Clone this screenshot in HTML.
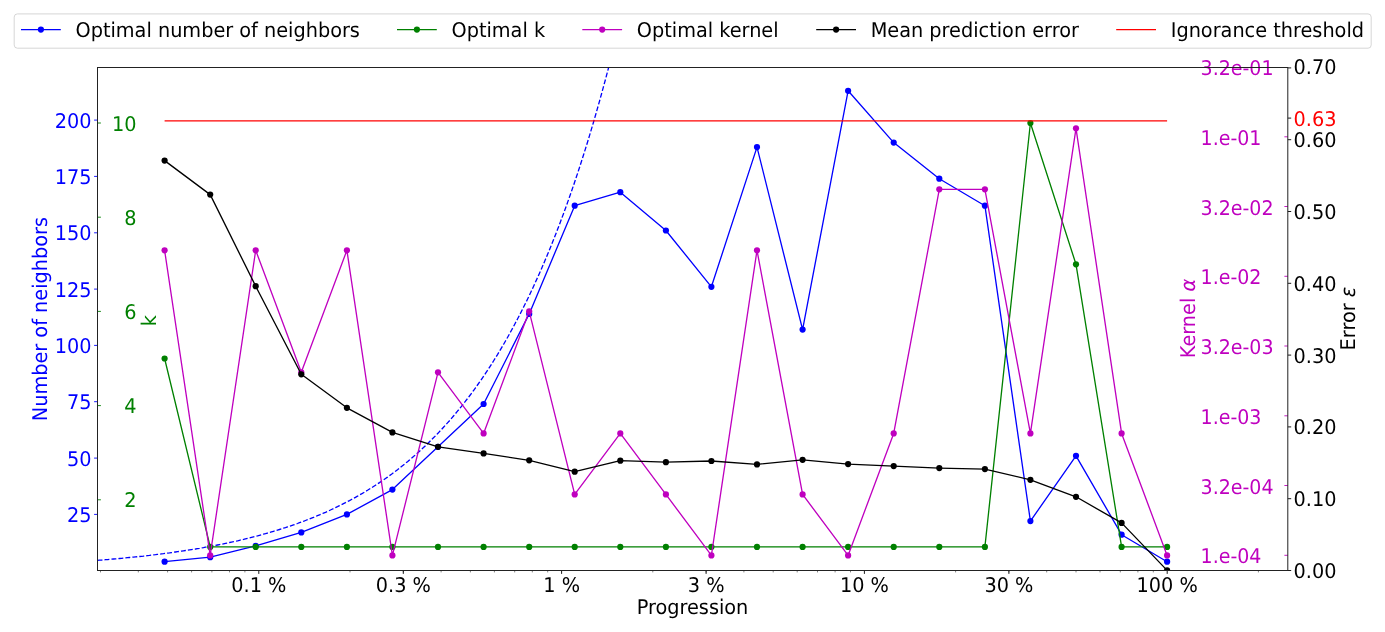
<!DOCTYPE html><html><head><meta charset="utf-8"><title>Progression</title><style>html,body{margin:0;padding:0;background:#fff}svg{display:block}</style></head><body><svg width="1385" height="632" viewBox="0 0 1385 632" font-family="'DejaVu Sans','Liberation Sans',sans-serif" font-size="19.3" style="text-rendering:geometricPrecision">
<rect width="1385" height="632" fill="#fff"/>
<defs><clipPath id="c"><rect x="97.5" y="67.5" width="1190.3" height="503.0"/></clipPath></defs>
<g clip-path="url(#c)"><polyline fill="none" stroke="#0000ff" stroke-width="1.32" stroke-dasharray="4.9 2.1" points="97.5,560.4 99.5,560.2 101.5,560.1 103.5,559.9 105.5,559.7 107.5,559.6 109.5,559.4 111.5,559.2 113.5,559.0 115.5,558.9 117.5,558.7 119.5,558.5 121.5,558.3 123.5,558.1 125.5,557.9 127.5,557.7 129.5,557.5 131.5,557.3 133.5,557.1 135.5,556.9 137.5,556.7 139.5,556.5 141.5,556.3 143.5,556.1 145.5,555.8 147.5,555.6 149.5,555.4 151.5,555.1 153.5,554.9 155.5,554.7 157.5,554.4 159.5,554.2 161.5,553.9 163.5,553.7 165.5,553.4 167.5,553.1 169.5,552.9 171.5,552.6 173.5,552.3 175.5,552.0 177.5,551.7 179.5,551.4 181.5,551.1 183.5,550.8 185.5,550.5 187.5,550.2 189.5,549.9 191.5,549.6 193.5,549.3 195.5,549.0 197.5,548.6 199.5,548.3 201.5,547.9 203.5,547.6 205.5,547.2 207.5,546.9 209.5,546.5 211.5,546.1 213.5,545.8 215.5,545.4 217.5,545.0 219.5,544.6 221.5,544.2 223.5,543.8 225.5,543.4 227.5,543.0 229.5,542.5 231.5,542.1 233.5,541.7 235.5,541.2 237.5,540.8 239.5,540.3 241.5,539.8 243.5,539.4 245.5,538.9 247.5,538.4 249.5,537.9 251.5,537.4 253.5,536.9 255.5,536.4 257.5,535.9 259.5,535.3 261.5,534.8 263.5,534.2 265.5,533.7 267.5,533.1 269.5,532.5 271.5,531.9 273.5,531.3 275.5,530.7 277.5,530.1 279.5,529.5 281.5,528.9 283.5,528.2 285.5,527.6 287.5,526.9 289.5,526.3 291.5,525.6 293.5,524.9 295.5,524.2 297.5,523.5 299.5,522.7 301.5,522.0 303.5,521.3 305.5,520.5 307.5,519.7 309.5,519.0 311.5,518.2 313.5,517.4 315.5,516.5 317.5,515.7 319.5,514.9 321.5,514.0 323.5,513.1 325.5,512.3 327.5,511.4 329.5,510.5 331.5,509.5 333.5,508.6 335.5,507.6 337.5,506.7 339.5,505.7 341.5,504.7 343.5,503.7 345.5,502.7 347.5,501.6 349.5,500.6 351.5,499.5 353.5,498.4 355.5,497.3 357.5,496.2 359.5,495.0 361.5,493.9 363.5,492.7 365.5,491.5 367.5,490.3 369.5,489.0 371.5,487.8 373.5,486.5 375.5,485.2 377.5,483.9 379.5,482.6 381.5,481.2 383.5,479.9 385.5,478.5 387.5,477.1 389.5,475.6 391.5,474.2 393.5,472.7 395.5,471.2 397.5,469.7 399.5,468.1 401.5,466.5 403.5,464.9 405.5,463.3 407.5,461.7 409.5,460.0 411.5,458.3 413.5,456.6 415.5,454.8 417.5,453.1 419.5,451.3 421.5,449.4 423.5,447.6 425.5,445.7 427.5,443.8 429.5,441.8 431.5,439.8 433.5,437.8 435.5,435.8 437.5,433.7 439.5,431.6 441.5,429.5 443.5,427.3 445.5,425.1 447.5,422.9 449.5,420.7 451.5,418.4 453.5,416.0 455.5,413.6 457.5,411.2 459.5,408.8 461.5,406.3 463.5,403.8 465.5,401.2 467.5,398.6 469.5,396.0 471.5,393.3 473.5,390.6 475.5,387.8 477.5,385.0 479.5,382.2 481.5,379.3 483.5,376.4 485.5,373.4 487.5,370.4 489.5,367.3 491.5,364.2 493.5,361.0 495.5,357.8 497.5,354.6 499.5,351.2 501.5,347.9 503.5,344.5 505.5,341.0 507.5,337.5 509.5,333.9 511.5,330.3 513.5,326.6 515.5,322.8 517.5,319.0 519.5,315.2 521.5,311.3 523.5,307.3 525.5,303.3 527.5,299.2 529.5,295.0 531.5,290.8 533.5,286.5 535.5,282.1 537.5,277.7 539.5,273.2 541.5,268.7 543.5,264.0 545.5,259.3 547.5,254.6 549.5,249.7 551.5,244.8 553.5,239.8 555.5,234.7 557.5,229.6 559.5,224.4 561.5,219.0 563.5,213.7 565.5,208.2 567.5,202.6 569.5,197.0 571.5,191.3 573.5,185.5 575.5,179.5 577.5,173.6 579.5,167.5 581.5,161.3 583.5,155.0 585.5,148.6 587.5,142.2 589.5,135.6 591.5,128.9 593.5,122.2 595.5,115.3 597.5,108.3 599.5,101.2 601.5,94.0 603.5,86.7 605.5,79.3 607.5,71.8 609.5,64.1 611.5,56.4 613.5,48.5 615.5,40.5 617.5,32.4 619.5,24.1"/></g>
<g clip-path="url(#c)"><polyline fill="none" stroke="#0000ff" stroke-width="1.32" stroke-linejoin="round" points="164.6,561.7 210.2,557.2 255.7,545.9 301.3,532.4 346.9,514.4 392.4,489.6 438.0,446.8 483.6,404.0 529.2,313.9 574.7,205.7 620.3,192.2 665.9,230.5 711.4,286.8 757.0,147.1 802.6,329.6 848.1,90.8 893.7,142.6 939.3,178.7 984.9,205.7 1030.4,521.1 1076.0,455.8 1121.6,534.7 1167.1,561.7"/><g fill="#0000ff"><circle cx="164.6" cy="561.7" r="3.1"/><circle cx="210.2" cy="557.2" r="3.1"/><circle cx="255.7" cy="545.9" r="3.1"/><circle cx="301.3" cy="532.4" r="3.1"/><circle cx="346.9" cy="514.4" r="3.1"/><circle cx="392.4" cy="489.6" r="3.1"/><circle cx="438.0" cy="446.8" r="3.1"/><circle cx="483.6" cy="404.0" r="3.1"/><circle cx="529.2" cy="313.9" r="3.1"/><circle cx="574.7" cy="205.7" r="3.1"/><circle cx="620.3" cy="192.2" r="3.1"/><circle cx="665.9" cy="230.5" r="3.1"/><circle cx="711.4" cy="286.8" r="3.1"/><circle cx="757.0" cy="147.1" r="3.1"/><circle cx="802.6" cy="329.6" r="3.1"/><circle cx="848.1" cy="90.8" r="3.1"/><circle cx="893.7" cy="142.6" r="3.1"/><circle cx="939.3" cy="178.7" r="3.1"/><circle cx="984.9" cy="205.7" r="3.1"/><circle cx="1030.4" cy="521.1" r="3.1"/><circle cx="1076.0" cy="455.8" r="3.1"/><circle cx="1121.6" cy="534.7" r="3.1"/><circle cx="1167.1" cy="561.7" r="3.1"/></g></g>
<g clip-path="url(#c)"><polyline fill="none" stroke="#008000" stroke-width="1.32" stroke-linejoin="round" points="164.6,358.5 210.2,546.9 255.7,546.9 301.3,546.9 346.9,546.9 392.4,546.9 438.0,546.9 483.6,546.9 529.2,546.9 574.7,546.9 620.3,546.9 665.9,546.9 711.4,546.9 757.0,546.9 802.6,546.9 848.1,546.9 893.7,546.9 939.3,546.9 984.9,546.9 1030.4,123.0 1076.0,264.3 1121.6,546.9 1167.1,546.9"/><g fill="#008000"><circle cx="164.6" cy="358.5" r="3.1"/><circle cx="210.2" cy="546.9" r="3.1"/><circle cx="255.7" cy="546.9" r="3.1"/><circle cx="301.3" cy="546.9" r="3.1"/><circle cx="346.9" cy="546.9" r="3.1"/><circle cx="392.4" cy="546.9" r="3.1"/><circle cx="438.0" cy="546.9" r="3.1"/><circle cx="483.6" cy="546.9" r="3.1"/><circle cx="529.2" cy="546.9" r="3.1"/><circle cx="574.7" cy="546.9" r="3.1"/><circle cx="620.3" cy="546.9" r="3.1"/><circle cx="665.9" cy="546.9" r="3.1"/><circle cx="711.4" cy="546.9" r="3.1"/><circle cx="757.0" cy="546.9" r="3.1"/><circle cx="802.6" cy="546.9" r="3.1"/><circle cx="848.1" cy="546.9" r="3.1"/><circle cx="893.7" cy="546.9" r="3.1"/><circle cx="939.3" cy="546.9" r="3.1"/><circle cx="984.9" cy="546.9" r="3.1"/><circle cx="1030.4" cy="123.0" r="3.1"/><circle cx="1076.0" cy="264.3" r="3.1"/><circle cx="1121.6" cy="546.9" r="3.1"/><circle cx="1167.1" cy="546.9" r="3.1"/></g></g>
<g clip-path="url(#c)"><polyline fill="none" stroke="#bf00bf" stroke-width="1.32" stroke-linejoin="round" points="164.6,250.3 210.2,555.4 255.7,250.3 301.3,372.3 346.9,250.3 392.4,555.4 438.0,372.3 483.6,433.4 529.2,311.3 574.7,494.4 620.3,433.4 665.9,494.4 711.4,555.4 757.0,250.3 802.6,494.4 848.1,555.4 893.7,433.4 939.3,189.3 984.9,189.3 1030.4,433.4 1076.0,128.3 1121.6,433.4 1167.1,555.4"/><g fill="#bf00bf"><circle cx="164.6" cy="250.3" r="3.1"/><circle cx="210.2" cy="555.4" r="3.1"/><circle cx="255.7" cy="250.3" r="3.1"/><circle cx="301.3" cy="372.3" r="3.1"/><circle cx="346.9" cy="250.3" r="3.1"/><circle cx="392.4" cy="555.4" r="3.1"/><circle cx="438.0" cy="372.3" r="3.1"/><circle cx="483.6" cy="433.4" r="3.1"/><circle cx="529.2" cy="311.3" r="3.1"/><circle cx="574.7" cy="494.4" r="3.1"/><circle cx="620.3" cy="433.4" r="3.1"/><circle cx="665.9" cy="494.4" r="3.1"/><circle cx="711.4" cy="555.4" r="3.1"/><circle cx="757.0" cy="250.3" r="3.1"/><circle cx="802.6" cy="494.4" r="3.1"/><circle cx="848.1" cy="555.4" r="3.1"/><circle cx="893.7" cy="433.4" r="3.1"/><circle cx="939.3" cy="189.3" r="3.1"/><circle cx="984.9" cy="189.3" r="3.1"/><circle cx="1030.4" cy="433.4" r="3.1"/><circle cx="1076.0" cy="128.3" r="3.1"/><circle cx="1121.6" cy="433.4" r="3.1"/><circle cx="1167.1" cy="555.4" r="3.1"/></g></g>
<g clip-path="url(#c)"><polyline fill="none" stroke="#000000" stroke-width="1.32" stroke-linejoin="round" points="164.6,160.6 210.2,194.6 255.7,286.2 301.3,374.3 346.9,407.8 392.4,432.4 438.0,446.8 483.6,453.4 529.2,460.3 574.7,471.7 620.3,460.7 665.9,462.2 711.4,461.0 757.0,464.4 802.6,459.8 848.1,464.1 893.7,466.1 939.3,468.1 984.9,469.1 1030.4,479.8 1076.0,496.8 1121.6,522.9 1167.1,570.4"/><g fill="#000000"><circle cx="164.6" cy="160.6" r="3.1"/><circle cx="210.2" cy="194.6" r="3.1"/><circle cx="255.7" cy="286.2" r="3.1"/><circle cx="301.3" cy="374.3" r="3.1"/><circle cx="346.9" cy="407.8" r="3.1"/><circle cx="392.4" cy="432.4" r="3.1"/><circle cx="438.0" cy="446.8" r="3.1"/><circle cx="483.6" cy="453.4" r="3.1"/><circle cx="529.2" cy="460.3" r="3.1"/><circle cx="574.7" cy="471.7" r="3.1"/><circle cx="620.3" cy="460.7" r="3.1"/><circle cx="665.9" cy="462.2" r="3.1"/><circle cx="711.4" cy="461.0" r="3.1"/><circle cx="757.0" cy="464.4" r="3.1"/><circle cx="802.6" cy="459.8" r="3.1"/><circle cx="848.1" cy="464.1" r="3.1"/><circle cx="893.7" cy="466.1" r="3.1"/><circle cx="939.3" cy="468.1" r="3.1"/><circle cx="984.9" cy="469.1" r="3.1"/><circle cx="1030.4" cy="479.8" r="3.1"/><circle cx="1076.0" cy="496.8" r="3.1"/><circle cx="1121.6" cy="522.9" r="3.1"/><circle cx="1167.1" cy="570.4" r="3.1"/></g></g>
<line x1="164.6" x2="1167.1" y1="120.9" y2="120.9" stroke="#ff0000" stroke-width="1.32"/>
<text transform="translate(258.8,592.2) scale(1.000,1.050)" text-anchor="middle">0.1 %</text>
<text transform="translate(403.3,592.2) scale(1.000,1.050)" text-anchor="middle">0.3 %</text>
<text transform="translate(561.6,592.2) scale(1.000,1.050)" text-anchor="middle">1 %</text>
<text transform="translate(706.1,592.2) scale(1.000,1.050)" text-anchor="middle">3 %</text>
<text transform="translate(864.4,592.2) scale(1.000,1.050)" text-anchor="middle">10 %</text>
<text transform="translate(1008.9,592.2) scale(1.000,1.050)" text-anchor="middle">30 %</text>
<text transform="translate(1167.2,592.2) scale(1.000,1.050)" text-anchor="middle">100 %</text>
<g stroke="#000" stroke-width="0.90"><line x1="258.8" x2="258.8" y1="570.5" y2="573.9"/><line x1="403.3" x2="403.3" y1="570.5" y2="573.9"/><line x1="561.6" x2="561.6" y1="570.5" y2="573.9"/><line x1="706.1" x2="706.1" y1="570.5" y2="573.9"/><line x1="864.4" x2="864.4" y1="570.5" y2="573.9"/><line x1="1008.9" x2="1008.9" y1="570.5" y2="573.9"/><line x1="1167.2" x2="1167.2" y1="570.5" y2="573.9"/><line x1="100.5" x2="100.5" y1="570.5" y2="572.4" stroke-width="0.5"/><line x1="138.3" x2="138.3" y1="570.5" y2="572.4" stroke-width="0.5"/><line x1="167.6" x2="167.6" y1="570.5" y2="572.4" stroke-width="0.5"/><line x1="191.6" x2="191.6" y1="570.5" y2="572.4" stroke-width="0.5"/><line x1="211.9" x2="211.9" y1="570.5" y2="572.4" stroke-width="0.5"/><line x1="229.5" x2="229.5" y1="570.5" y2="572.4" stroke-width="0.5"/><line x1="244.9" x2="244.9" y1="570.5" y2="572.4" stroke-width="0.5"/><line x1="350.0" x2="350.0" y1="570.5" y2="572.4" stroke-width="0.5"/><line x1="403.3" x2="403.3" y1="570.5" y2="572.4" stroke-width="0.5"/><line x1="441.1" x2="441.1" y1="570.5" y2="572.4" stroke-width="0.5"/><line x1="470.4" x2="470.4" y1="570.5" y2="572.4" stroke-width="0.5"/><line x1="494.4" x2="494.4" y1="570.5" y2="572.4" stroke-width="0.5"/><line x1="514.7" x2="514.7" y1="570.5" y2="572.4" stroke-width="0.5"/><line x1="532.3" x2="532.3" y1="570.5" y2="572.4" stroke-width="0.5"/><line x1="547.7" x2="547.7" y1="570.5" y2="572.4" stroke-width="0.5"/><line x1="652.8" x2="652.8" y1="570.5" y2="572.4" stroke-width="0.5"/><line x1="706.1" x2="706.1" y1="570.5" y2="572.4" stroke-width="0.5"/><line x1="743.9" x2="743.9" y1="570.5" y2="572.4" stroke-width="0.5"/><line x1="773.2" x2="773.2" y1="570.5" y2="572.4" stroke-width="0.5"/><line x1="797.2" x2="797.2" y1="570.5" y2="572.4" stroke-width="0.5"/><line x1="817.5" x2="817.5" y1="570.5" y2="572.4" stroke-width="0.5"/><line x1="835.1" x2="835.1" y1="570.5" y2="572.4" stroke-width="0.5"/><line x1="850.5" x2="850.5" y1="570.5" y2="572.4" stroke-width="0.5"/><line x1="955.6" x2="955.6" y1="570.5" y2="572.4" stroke-width="0.5"/><line x1="1008.9" x2="1008.9" y1="570.5" y2="572.4" stroke-width="0.5"/><line x1="1046.7" x2="1046.7" y1="570.5" y2="572.4" stroke-width="0.5"/><line x1="1076.0" x2="1076.0" y1="570.5" y2="572.4" stroke-width="0.5"/><line x1="1100.0" x2="1100.0" y1="570.5" y2="572.4" stroke-width="0.5"/><line x1="1120.3" x2="1120.3" y1="570.5" y2="572.4" stroke-width="0.5"/><line x1="1137.9" x2="1137.9" y1="570.5" y2="572.4" stroke-width="0.5"/><line x1="1153.3" x2="1153.3" y1="570.5" y2="572.4" stroke-width="0.5"/><line x1="1258.4" x2="1258.4" y1="570.5" y2="572.4" stroke-width="0.5"/></g>
<text transform="translate(692.5,614.0) scale(1.000,1.050)" text-anchor="middle">Progression</text>
<text transform="translate(91.5,522.0) scale(1.000,1.050)" text-anchor="end" fill="#0000ff">25</text>
<text transform="translate(91.5,465.7) scale(1.000,1.050)" text-anchor="end" fill="#0000ff">50</text>
<text transform="translate(91.5,409.3) scale(1.000,1.050)" text-anchor="end" fill="#0000ff">75</text>
<text transform="translate(91.5,353.0) scale(1.000,1.050)" text-anchor="end" fill="#0000ff">100</text>
<text transform="translate(91.5,296.7) scale(1.000,1.050)" text-anchor="end" fill="#0000ff">125</text>
<text transform="translate(91.5,240.3) scale(1.000,1.050)" text-anchor="end" fill="#0000ff">150</text>
<text transform="translate(91.5,184.0) scale(1.000,1.050)" text-anchor="end" fill="#0000ff">175</text>
<text transform="translate(91.5,127.7) scale(1.000,1.050)" text-anchor="end" fill="#0000ff">200</text>
<g stroke="#0000ff" stroke-width="0.90"><line x1="94.1" x2="97.5" y1="514.4" y2="514.4"/><line x1="94.1" x2="97.5" y1="458.1" y2="458.1"/><line x1="94.1" x2="97.5" y1="401.7" y2="401.7"/><line x1="94.1" x2="97.5" y1="345.4" y2="345.4"/><line x1="94.1" x2="97.5" y1="289.1" y2="289.1"/><line x1="94.1" x2="97.5" y1="232.8" y2="232.8"/><line x1="94.1" x2="97.5" y1="176.4" y2="176.4"/><line x1="94.1" x2="97.5" y1="120.1" y2="120.1"/></g>
<text transform="translate(46.8,319.1) rotate(-90) scale(1.000,1.050)" text-anchor="middle" fill="#0000ff">Number of neighbors</text>
<text transform="translate(136.6,507.4) scale(1.000,1.050)" text-anchor="end" fill="#008000">2</text>
<text transform="translate(136.6,413.2) scale(1.000,1.050)" text-anchor="end" fill="#008000">4</text>
<text transform="translate(136.6,319.0) scale(1.000,1.050)" text-anchor="end" fill="#008000">6</text>
<text transform="translate(136.6,224.8) scale(1.000,1.050)" text-anchor="end" fill="#008000">8</text>
<text transform="translate(136.6,130.6) scale(1.000,1.050)" text-anchor="end" fill="#008000">10</text>
<g stroke="#008000" stroke-width="0.90"><line x1="97.5" x2="100.9" y1="499.8" y2="499.8"/><line x1="97.5" x2="100.9" y1="405.6" y2="405.6"/><line x1="97.5" x2="100.9" y1="311.4" y2="311.4"/><line x1="97.5" x2="100.9" y1="217.2" y2="217.2"/><line x1="97.5" x2="100.9" y1="123.0" y2="123.0"/></g>
<text transform="translate(156.3,320.6) rotate(-90) scale(1.000,1.050)" text-anchor="middle" fill="#008000">k</text>
<text transform="translate(1200.6,563.3) scale(0.985,1.050)" fill="#bf00bf">1.e-04</text>
<text transform="translate(1200.6,493.5) scale(0.985,1.050)" fill="#bf00bf">3.2e-04</text>
<text transform="translate(1200.6,423.8) scale(0.985,1.050)" fill="#bf00bf">1.e-03</text>
<text transform="translate(1200.6,354.0) scale(0.985,1.050)" fill="#bf00bf">3.2e-03</text>
<text transform="translate(1200.6,284.3) scale(0.985,1.050)" fill="#bf00bf">1.e-02</text>
<text transform="translate(1200.6,214.5) scale(0.985,1.050)" fill="#bf00bf">3.2e-02</text>
<text transform="translate(1200.6,144.8) scale(0.985,1.050)" fill="#bf00bf">1.e-01</text>
<text transform="translate(1200.6,75.0) scale(0.985,1.050)" fill="#bf00bf">3.2e-01</text>
<g stroke="#bf00bf" stroke-width="0.90"><line x1="1284.4" x2="1287.8" y1="555.3" y2="555.3"/><line x1="1284.4" x2="1287.8" y1="485.5" y2="485.5"/><line x1="1284.4" x2="1287.8" y1="415.8" y2="415.8"/><line x1="1284.4" x2="1287.8" y1="346.0" y2="346.0"/><line x1="1284.4" x2="1287.8" y1="276.3" y2="276.3"/><line x1="1284.4" x2="1287.8" y1="206.5" y2="206.5"/><line x1="1284.4" x2="1287.8" y1="136.8" y2="136.8"/></g>
<text transform="translate(1194.5,318.6) rotate(-90) scale(1.000,1.050)" text-anchor="middle" fill="#bf00bf">Kernel <tspan font-style="italic">α</tspan></text>
<text transform="translate(1293.6,578.0) scale(1.000,1.050)">0.00</text>
<text transform="translate(1293.6,506.0) scale(1.000,1.050)">0.10</text>
<text transform="translate(1293.6,434.0) scale(1.000,1.050)">0.20</text>
<text transform="translate(1293.6,363.0) scale(1.000,1.050)">0.30</text>
<text transform="translate(1293.6,291.0) scale(1.000,1.050)">0.40</text>
<text transform="translate(1293.6,219.0) scale(1.000,1.050)">0.50</text>
<text transform="translate(1293.6,147.0) scale(1.000,1.050)">0.60</text>
<text transform="translate(1293.6,74.0) scale(1.000,1.050)">0.70</text>
<text transform="translate(1293.6,126.0) scale(1.000,1.050)" fill="#ff0000">0.63</text>
<g stroke="#000" stroke-width="0.90"><line x1="1287.8" x2="1291.2" y1="570.5" y2="570.5"/><line x1="1287.8" x2="1291.2" y1="498.7" y2="498.7"/><line x1="1287.8" x2="1291.2" y1="426.9" y2="426.9"/><line x1="1287.8" x2="1291.2" y1="355.1" y2="355.1"/><line x1="1287.8" x2="1291.2" y1="283.3" y2="283.3"/><line x1="1287.8" x2="1291.2" y1="211.5" y2="211.5"/><line x1="1287.8" x2="1291.2" y1="139.7" y2="139.7"/><line x1="1287.8" x2="1291.2" y1="67.9" y2="67.9"/><line x1="1287.8" x2="1291.2" y1="118.1" y2="118.1"/></g>
<text transform="translate(1355.0,318.6) rotate(-90) scale(1.000,1.050)" text-anchor="middle">Error <tspan font-style="italic">ε</tspan></text>
<rect x="97.5" y="67.5" width="1190.3" height="503.0" fill="none" stroke="#222" stroke-width="1.00"/>
<rect x="14.2" y="13.9" width="1357" height="34.3" rx="3.2" fill="#fff" fill-opacity="0.8" stroke="#ccc" stroke-width="0.8"/>
<line x1="21.0" x2="60.8" y1="29.6" y2="29.6" stroke="#0000ff" stroke-width="1.32"/>
<circle cx="40.9" cy="29.6" r="3.1" fill="#0000ff"/>
<text transform="translate(75.5,36.5) scale(1.000,1.050)">Optimal number of neighbors</text>
<line x1="397.0" x2="436.8" y1="29.6" y2="29.6" stroke="#008000" stroke-width="1.32"/>
<circle cx="416.9" cy="29.6" r="3.1" fill="#008000"/>
<text transform="translate(451.5,36.5) scale(1.000,1.050)">Optimal k</text>
<line x1="582.3" x2="622.1" y1="29.6" y2="29.6" stroke="#bf00bf" stroke-width="1.32"/>
<circle cx="602.2" cy="29.6" r="3.1" fill="#bf00bf"/>
<text transform="translate(636.8,36.5) scale(1.000,1.050)">Optimal kernel</text>
<line x1="816.2" x2="856.0" y1="29.6" y2="29.6" stroke="#000" stroke-width="1.32"/>
<circle cx="836.1" cy="29.6" r="3.1" fill="#000"/>
<text transform="translate(870.7,36.5) scale(1.000,1.050)">Mean prediction error</text>
<line x1="1116.2" x2="1156.0" y1="29.6" y2="29.6" stroke="#ff0000" stroke-width="1.32"/>
<text transform="translate(1170.7,36.5) scale(1.000,1.050)">Ignorance threshold</text>
</svg></body></html>
